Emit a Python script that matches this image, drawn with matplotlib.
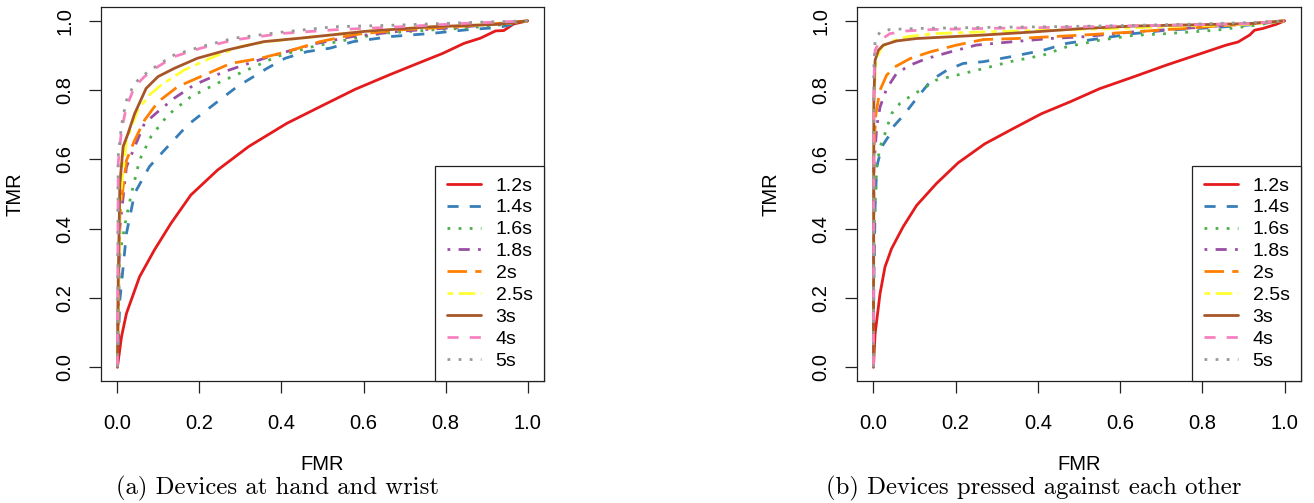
import matplotlib
matplotlib.use("Agg")
import matplotlib.pyplot as plt

plt.rcParams['font.family'] = ['Liberation Sans', 'DejaVu Sans']

labels = ["1.2s", "1.4s", "1.6s", "1.8s", "2s", "2.5s", "3s", "4s", "5s"]
colors = ["#E41A1C", "#377EB8", "#4DAF4A", "#984EA3", "#FF7F00",
          "#FFFF33", "#A65628", "#F781BF", "#999999"]
# R lty 1..6 then 1..3
dash_styles = [None, (4, 4), (1, 3), (1, 3, 4, 3), (7, 3), (2, 2, 6, 2),
               None, (4, 4), (1, 3)]

ticks = [0.0, 0.2, 0.4, 0.6, 0.8, 1.0]
tick_labels = ["0.0", "0.2", "0.4", "0.6", "0.8", "1.0"]

# ---------------- panel (a): devices at hand and wrist ----------------
a_fmr_12 = [0, 0.01, 0.022, 0.054, 0.09, 0.131, 0.179, 0.244, 0.32, 0.413, 0.494, 0.579,
            0.663, 0.736, 0.793, 0.845, 0.885, 0.922, 0.942, 0.966, 1.0]
a_tmr_12 = [0, 0.088, 0.155, 0.261, 0.338, 0.416, 0.497, 0.569, 0.637, 0.704, 0.752, 0.802,
            0.844, 0.879, 0.906, 0.935, 0.950, 0.971, 0.972, 0.991, 1.0]
a_fmr_14 = [0, 0.002, 0.006, 0.022, 0.042, 0.078, 0.111, 0.171, 0.228, 0.292, 0.365, 0.409,
            0.462, 0.518, 0.575, 0.67, 0.768, 0.85, 0.93, 1.0]
a_tmr_14 = [0, 0.06, 0.194, 0.386, 0.502, 0.579, 0.622, 0.699, 0.752, 0.810, 0.863, 0.892,
            0.911, 0.921, 0.940, 0.955, 0.964, 0.974, 0.981, 1.0]
a_fmr_16 = [0, 0.002, 0.006, 0.022, 0.034, 0.054, 0.082, 0.123, 0.179, 0.244, 0.316, 0.389,
            0.478, 0.559, 0.647, 0.768, 0.85, 0.93, 1.0]
a_tmr_16 = [0, 0.12, 0.329, 0.434, 0.50, 0.598, 0.666, 0.728, 0.781, 0.82, 0.858, 0.897,
            0.926, 0.945, 0.964, 0.974, 0.979, 0.988, 1.0]
a_fmr_18 = [0, 0.002, 0.006, 0.022, 0.042, 0.066, 0.099, 0.139, 0.187, 0.26, 0.332, 0.397,
            0.486, 0.575, 0.69, 0.85, 1.0]
a_tmr_18 = [0, 0.15, 0.405, 0.578, 0.636, 0.704, 0.738, 0.777, 0.815, 0.853, 0.882, 0.906,
            0.935, 0.955, 0.97, 0.983, 1.0]
a_fmr_2 = [0, 0.002, 0.006, 0.022, 0.042, 0.066, 0.099, 0.147, 0.203, 0.276, 0.349, 0.413,
           0.494, 0.575, 0.69, 0.85, 1.0]
a_tmr_2 = [0, 0.18, 0.443, 0.597, 0.655, 0.713, 0.766, 0.81, 0.839, 0.877, 0.892, 0.911,
           0.940, 0.96, 0.974, 0.985, 1.0]
a_fmr_25 = [0, 0.002, 0.006, 0.022, 0.05, 0.078, 0.107, 0.163, 0.236, 0.3, 0.365, 0.446,
            0.607, 0.768, 0.93, 1.0]
a_tmr_25 = [0, 0.2, 0.48, 0.655, 0.743, 0.786, 0.815, 0.858, 0.897, 0.926, 0.94, 0.95,
            0.97, 0.983, 0.99, 1.0]
a_fmr_3 = [0, 0.002, 0.006, 0.014, 0.026, 0.042, 0.07, 0.099, 0.139, 0.195, 0.268, 0.357,
           0.446, 0.527, 0.607, 0.768, 0.93, 1.0]
a_tmr_3 = [0, 0.25, 0.53, 0.637, 0.675, 0.732, 0.805, 0.839, 0.863, 0.892, 0.916, 0.94,
           0.95, 0.96, 0.97, 0.983, 0.99, 1.0]
a_fmr_4 = [0, 0.001, 0.002, 0.01, 0.022, 0.042, 0.066, 0.099, 0.139, 0.203, 0.284, 0.405,
           0.527, 0.69, 0.85, 1.0]
a_tmr_4 = [0, 0.3, 0.59, 0.684, 0.752, 0.81, 0.839, 0.868, 0.897, 0.921, 0.945, 0.964,
           0.974, 0.983, 0.993, 1.0]
a_fmr_5 = [0, 0.001, 0.002, 0.01, 0.022, 0.042, 0.066, 0.099, 0.139, 0.203, 0.284, 0.405,
           0.527, 0.69, 0.85, 1.0]
a_tmr_5 = [0, 0.3, 0.61, 0.70, 0.77, 0.82, 0.845, 0.873, 0.902, 0.925, 0.95, 0.968,
           0.983, 0.988, 0.995, 1.0]

# ---------------- panel (b): devices pressed against each other ----------------
b_fmr_12 = [0, 0.004, 0.016, 0.028, 0.044, 0.072, 0.105, 0.153, 0.206, 0.271, 0.34, 0.409,
            0.478, 0.55, 0.632, 0.712, 0.785, 0.858, 0.887, 0.915, 0.927, 0.947, 0.98, 1.0]
b_tmr_12 = [0, 0.096, 0.212, 0.289, 0.342, 0.405, 0.467, 0.53, 0.59, 0.645, 0.689, 0.732,
            0.766, 0.804, 0.838, 0.872, 0.901, 0.930, 0.939, 0.959, 0.973, 0.978, 0.99, 1.0]
b_fmr_14 = [0, 0.001, 0.004, 0.008, 0.02, 0.036, 0.048, 0.073, 0.105, 0.141, 0.178, 0.218,
            0.267, 0.332, 0.413, 0.47, 0.55, 0.632, 0.712, 0.834, 0.915, 1.0]
b_tmr_14 = [0, 0.24, 0.462, 0.578, 0.636, 0.665, 0.694, 0.727, 0.776, 0.829, 0.857, 0.877,
            0.882, 0.896, 0.915, 0.935, 0.949, 0.963, 0.973, 0.981, 0.988, 1.0]
b_fmr_16 = [0, 0.001, 0.008, 0.016, 0.028, 0.044, 0.064, 0.093, 0.121, 0.153, 0.202, 0.267,
            0.332, 0.413, 0.47, 0.55, 0.632, 0.712, 0.834, 0.915, 1.0]
b_tmr_16 = [0, 0.385, 0.578, 0.636, 0.674, 0.732, 0.761, 0.785, 0.804, 0.829, 0.843, 0.862,
            0.882, 0.901, 0.925, 0.944, 0.958, 0.963, 0.973, 0.985, 1.0]
b_fmr_18 = [0, 0.001, 0.008, 0.016, 0.032, 0.056, 0.089, 0.129, 0.186, 0.25, 0.332, 0.429,
            0.51, 0.632, 0.753, 0.874, 1.0]
b_tmr_18 = [0, 0.578, 0.694, 0.751, 0.804, 0.848, 0.872, 0.891, 0.91, 0.93, 0.939, 0.949,
            0.954, 0.968, 0.978, 0.988, 1.0]
b_fmr_2 = [0, 0.001, 0.006, 0.016, 0.032, 0.052, 0.089, 0.137, 0.202, 0.267, 0.348, 0.429,
           0.51, 0.632, 0.753, 0.874, 1.0]
b_tmr_2 = [0, 0.626, 0.732, 0.80, 0.843, 0.867, 0.891, 0.91, 0.93, 0.946, 0.949, 0.954,
           0.959, 0.968, 0.978, 0.988, 1.0]
b_fmr_25 = [0, 0.001, 0.006, 0.02, 0.04, 0.081, 0.145, 0.267, 0.429, 0.591, 0.753, 0.915, 1.0]
b_tmr_25 = [0, 0.77, 0.886, 0.925, 0.939, 0.954, 0.963, 0.968, 0.973, 0.978, 0.985, 0.99, 1.0]
b_fmr_3 = [0, 0.001, 0.004, 0.012, 0.024, 0.056, 0.105, 0.186, 0.267, 0.389, 0.51, 0.632,
           0.753, 0.915, 1.0]
b_tmr_3 = [0, 0.77, 0.886, 0.915, 0.93, 0.942, 0.949, 0.954, 0.959, 0.968, 0.978, 0.985,
           0.988, 0.992, 1.0]
b_fmr_4 = [0, 0.001, 0.004, 0.016, 0.04, 0.081, 0.145, 0.267, 0.429, 0.591, 0.753, 0.915, 1.0]
b_tmr_4 = [0, 0.819, 0.915, 0.944, 0.963, 0.971, 0.975, 0.978, 0.981, 0.985, 0.988, 0.992, 1.0]
b_fmr_5 = [0, 0.001, 0.004, 0.016, 0.04, 0.105, 0.267, 0.429, 0.591, 0.753, 0.915, 1.0]
b_tmr_5 = [0, 0.867, 0.944, 0.968, 0.975, 0.978, 0.981, 0.983, 0.986, 0.99, 0.995, 1.0]

panel_a = [(a_fmr_12, a_tmr_12), (a_fmr_14, a_tmr_14), (a_fmr_16, a_tmr_16),
           (a_fmr_18, a_tmr_18), (a_fmr_2, a_tmr_2), (a_fmr_25, a_tmr_25),
           (a_fmr_3, a_tmr_3), (a_fmr_4, a_tmr_4), (a_fmr_5, a_tmr_5)]
panel_b = [(b_fmr_12, b_tmr_12), (b_fmr_14, b_tmr_14), (b_fmr_16, b_tmr_16),
           (b_fmr_18, b_tmr_18), (b_fmr_2, b_tmr_2), (b_fmr_25, b_tmr_25),
           (b_fmr_3, b_tmr_3), (b_fmr_4, b_tmr_4), (b_fmr_5, b_tmr_5)]

captions = ["(a) Devices at hand and wrist", "(b) Devices pressed against each other"]

W, H = 1314, 503
fig = plt.figure(figsize=(W / 100, H / 100), dpi=100)

axes_px = [(101, 7, 544, 381), (857, 7, 1301, 381)]
caption_x = [277, 1034]

for idx, (data, (l, t, r, b)) in enumerate(zip([panel_a, panel_b], axes_px)):
    ax = fig.add_axes([l / W, 1 - b / H, (r - l) / W, (b - t) / H])
    for (fx, ty), lab, c, ds in zip(data, labels, colors, dash_styles):
        line, = ax.plot(fx, ty, color=c, lw=2.0, label=lab,
                        solid_capstyle='round', dash_capstyle='butt',
                        solid_joinstyle='round')
        if ds is not None:
            line.set_dashes(ds)
    ax.set_xlim(-0.04, 1.04)
    ax.set_ylim(-0.04, 1.04)
    ax.set_xticks(ticks)
    ax.set_xticklabels(tick_labels)
    ax.set_yticks(ticks)
    ax.set_yticklabels(tick_labels, rotation=90, va='center')
    ax.tick_params(direction='out', length=8.6, width=0.9, labelsize=14.5,
                   color='#222222')
    ax.tick_params(axis='x', pad=15)
    ax.tick_params(axis='y', pad=10.5)
    for sp in ax.spines.values():
        sp.set_linewidth(0.9)
        sp.set_color('#222222')
    ax.set_xlabel("FMR", fontsize=14.5)
    ax.set_ylabel("TMR", fontsize=14.5)
    ax.xaxis.set_label_coords(0.5, (381 - 464) / 374)
    ax.xaxis.label.set_va('center')
    ax.yaxis.set_label_coords((15 - 101) / 443, 0.5)
    ax.yaxis.label.set_va('center')
    leg = ax.legend(loc='lower right', borderaxespad=0, fancybox=False,
                    edgecolor='#222222', framealpha=1, fontsize=14,
                    handlelength=1.75, handletextpad=0.77, labelspacing=0.22,
                    borderpad=0.58)
    leg.get_frame().set_linewidth(0.9)
    fig.text(caption_x[idx] / W, 1 - 488 / H, captions[idx], ha='center', va='center',
             fontsize=17.8, family='cmr10')

fig.savefig("out.png", dpi=100)
